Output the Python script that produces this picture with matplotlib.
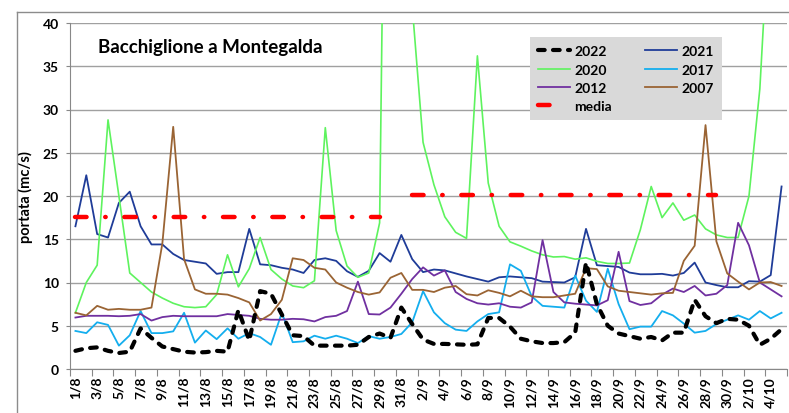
import matplotlib.pyplot as plt
from matplotlib.lines import Line2D
import numpy as np
import pandas as pd

# ---------------- Dati ----------------
giorni = pd.date_range("2022-08-01", "2022-10-05")
etichette = [f"{d.day}/{d.month}" for d in giorni]

q2022 = [2.1, 2.4, 2.5, 2.1, 1.85, 2.0, 4.7, 3.6, 2.6, 2.3,
         2.0, 1.9, 1.95, 2.1, 2.0, 6.8, 3.3, 9.0, 8.7, 6.3,
         3.9, 3.8, 2.7, 2.7, 2.7, 2.7, 2.8, 3.7, 4.1, 3.6,
         7.1, 5.2, 3.4, 2.9, 2.9, 2.85, 2.8, 2.85, 5.9, 5.9,
         4.9, 3.5, 3.2, 3.0, 3.0, 3.1, 4.2, 12.3, 7.5, 5.0,
         4.1, 3.8, 3.5, 3.7, 3.3, 4.2, 4.2, 8.0, 6.1, 5.3,
         5.8, 5.7, 5.0, 2.8, 3.5, 4.6]
q2021 = [16.5, 22.4, 15.6, 15.2, 19.2, 20.5, 16.5, 14.4, 14.4, 13.3,
         12.6, 12.4, 12.2, 11.0, 11.2, 11.2, 16.2, 12.1, 12.0, 11.7,
         11.5, 11.1, 12.6, 12.8, 12.5, 11.3, 10.65, 11.35, 13.4, 12.4,
         15.5, 12.7, 11.2, 11.5, 11.4, 11.05, 10.7, 10.4, 10.1, 10.6,
         10.7, 10.6, 10.5, 10.1, 10.05, 10.0, 10.6, 16.2, 12.0, 11.9,
         11.8, 11.15, 10.95, 10.95, 11.0, 10.8, 11.1, 12.3, 10.0, 9.7,
         9.45, 9.45, 10.15, 10.1, 10.85, 21.1]
q2020 = [6.5, 10.0, 12.0, 28.8, 20.0, 11.1, 10.0, 8.9, 8.2, 7.6,
         7.2, 7.1, 7.2, 8.6, 13.2, 9.5, 11.6, 15.2, 11.5, 10.4,
         9.6, 9.4, 10.2, 27.9, 16.0, 11.9, 10.6, 11.1, 16.9, 120.0,
         100.0, 42.0, 26.2, 21.3, 17.6, 15.8, 15.1, 36.2, 21.5, 16.5,
         14.7, 14.2, 13.65, 13.2, 12.95, 13.0, 12.7, 12.85, 12.45, 12.2,
         12.2, 12.25, 16.1, 21.1, 17.5, 19.2, 17.2, 17.8, 16.2, 15.5,
         15.2, 15.2, 20.0, 32.4, 55.0, 60.0]
q2017 = [4.4, 4.15, 5.4, 5.1, 2.7, 3.9, 6.7, 4.15, 4.15, 4.35,
         6.5, 3.05, 4.45, 3.45, 4.7, 3.5, 4.15, 3.7, 2.8, 6.5,
         3.1, 3.2, 3.85, 3.5, 3.85, 3.5, 3.0, 3.8, 3.5, 3.7,
         4.05, 5.4, 9.0, 6.55, 5.3, 4.55, 4.4, 5.5, 6.35, 6.55,
         12.1, 11.35, 8.4, 7.3, 7.2, 7.1, 10.8, 7.9, 6.6, 11.6,
         7.5, 4.6, 4.9, 4.9, 6.7, 6.2, 5.25, 4.2, 4.4, 5.2,
         5.7, 6.2, 5.7, 6.7, 5.85, 6.5]
q2012 = [5.95, 6.15, 6.15, 6.15, 6.1, 6.15, 6.35, 5.6, 6.0, 6.15,
         6.1, 6.1, 6.1, 6.1, 6.35, 6.25, 6.15, 5.8, 5.7, 5.7,
         5.8, 5.75, 5.5, 6.0, 6.15, 6.7, 10.1, 6.35, 6.3, 7.1,
         8.7, 10.4, 11.75, 10.8, 11.4, 8.9, 8.1, 7.6, 7.45, 7.6,
         7.2, 7.1, 7.7, 14.9, 8.9, 7.7, 7.55, 7.45, 7.35, 7.95,
         13.55, 7.85, 7.4, 7.6, 8.6, 9.3, 8.9, 9.6, 8.5, 8.7,
         9.7, 16.9, 14.3, 10.0, 9.2, 8.4]
q2007 = [6.5, 6.2, 7.3, 6.85, 6.95, 6.85, 6.85, 7.1, 14.5, 28.0,
         12.7, 9.2, 8.7, 8.7, 8.6, 8.2, 7.7, 5.6, 6.35, 8.0,
         12.8, 12.6, 11.7, 11.5, 10.0, 9.4, 8.9, 8.6, 8.85, 10.55,
         11.1, 9.15, 9.15, 8.9, 9.4, 9.6, 8.65, 8.5, 9.1, 8.8,
         8.4, 9.05, 8.4, 8.3, 8.3, 8.5, 8.7, 11.65, 11.55, 9.55,
         9.05, 8.9, 8.75, 8.6, 8.75, 8.8, 12.5, 14.25, 28.2, 14.75,
         11.05, 10.1, 9.2, 10.0, 10.05, 9.6]
media_agosto = 17.6
media_settembre = 20.1
media = [media_agosto] * 29 + [np.nan] * 2 + [media_settembre] * 29 + [np.nan] * 6

# ---------------- Grafico ----------------
plt.rcParams['font.family'] = ['Lato', 'DejaVu Sans']
plt.rcParams['font.weight'] = 'bold'

fig = plt.figure(figsize=(7.89, 4.14), dpi=100)
ax = fig.add_axes([70 / 789, 44 / 414, 717 / 789, 346 / 414])

x = np.arange(len(q2022))
l2021, = ax.plot(x, q2021, color='#1F3C98', lw=1.3, label='2021')
l2020, = ax.plot(x, q2020, color='#5EF35E', lw=1.2, label='2020')
l2017, = ax.plot(x, q2017, color='#14AEEE', lw=1.3, label='2017')
l2012, = ax.plot(x, q2012, color='#7030A0', lw=1.3, label='2012')
l2007, = ax.plot(x, q2007, color='#9A6434', lw=1.3, label='2007')
l2022, = ax.plot(x, q2022, color='black', lw=3, dashes=(1.6, 2.0),
                 dash_capstyle='round', label='2022')
ax.plot(x, media, color='#FF0000', lw=3.2, dashes=(2.6, 4.2, 0.1, 4.2),
        dash_capstyle='round')
lmedia = Line2D([], [], color='#FF0000', lw=3.2, dashes=(2.6, 20),
                dash_capstyle='round', label='media')

ax.set_xlim(-0.5, len(x) - 0.5)
ax.set_ylim(0, 40)
ax.set_yticks(range(0, 41, 5))
ax.set_xticks(np.arange(-0.5, len(x), 2))
ax.set_xticklabels([])
ax.set_xticks(x[::2], minor=True)
ax.set_xticklabels(etichette[::2], minor=True, rotation=90, fontsize=10)
ax.tick_params(axis='x', which='minor', length=0, pad=5)
ax.tick_params(axis='x', which='major', length=5, color='#888888')
ax.tick_params(axis='y', length=3, pad=5, color='#888888', labelsize=10)

ax.yaxis.grid(True, color='#A0A0A0', lw=1)
ax.set_axisbelow(True)
for s in ['top', 'right']:
    ax.spines[s].set_visible(False)
for s in ['left', 'bottom']:
    ax.spines[s].set_color('#888888')

ax.set_ylabel('portata (mc/s)', fontsize=10.5, fontweight='bold')
ax.yaxis.set_label_coords(-0.052, 0.5)

ax.text(0.039, 0.933, 'Bacchiglione a Montegalda', transform=ax.transAxes,
        ha='left', va='center', fontsize=13.5)

leg = ax.legend(handles=[l2022, l2020, l2012, lmedia, l2021, l2017, l2007],
                ncol=2, loc='upper left', bbox_to_anchor=(0.6416, 0.9595),
                borderaxespad=0, fontsize=10, frameon=True, fancybox=False,
                facecolor='#D9D9D9', edgecolor='none', framealpha=1,
                handlelength=2.3, handletextpad=0.3, columnspacing=2.4,
                labelspacing=0.45, borderpad=0.6)

# cornice esterna del grafico
fig.add_artist(Line2D([17 / 789, 17 / 789], [0, 1 - 13 / 414],
                      transform=fig.transFigure, color='#8C8C8C', lw=1))
fig.add_artist(Line2D([17 / 789, 1], [1 - 13 / 414, 1 - 13 / 414],
                      transform=fig.transFigure, color='#8C8C8C', lw=1))

fig.savefig('out.png', dpi=100)
